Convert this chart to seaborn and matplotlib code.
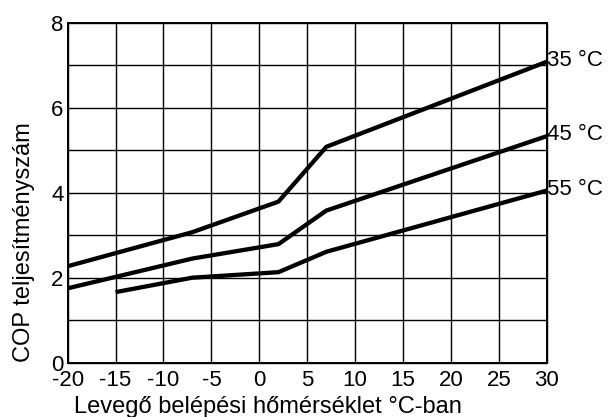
import matplotlib
matplotlib.use("Agg")
import matplotlib.pyplot as plt
import seaborn as sns
import pandas as pd

# Outdoor air temperature (°C) and COP curves per flow temperature
temp_35 = [-20, -7, 2, 7, 30]
cop_35 = [2.27, 3.07, 3.79, 5.08, 7.08]
temp_45 = [-20, -7, 2, 7, 30]
cop_45 = [1.75, 2.45, 2.79, 3.58, 5.33]
temp_55 = [-15, -7, 2, 7, 30]
cop_55 = [1.66, 2.00, 2.13, 2.61, 4.05]
series_labels = ["35 °C", "45 °C", "55 °C"]

x_ticks = [-20, -15, -10, -5, 0, 5, 10, 15, 20, 25, 30]
y_ticks = [0, 2, 4, 6, 8]

frames = []
for lab, xs, ys in zip(series_labels, [temp_35, temp_45, temp_55], [cop_35, cop_45, cop_55]):
    frames.append(pd.DataFrame({"temp": xs, "cop": ys, "curve": lab}))
df = pd.concat(frames, ignore_index=True)

sns.set_style("white")
plt.rcParams["font.family"] = ["Liberation Sans", "DejaVu Sans"]

fig = plt.figure(figsize=(6.08, 4.17), dpi=100)
ax = fig.add_axes([0.1113, 0.1302, 0.7879, 0.8154])

# grid every 5 °C and every 1 COP unit
for gx in range(-20, 31, 5):
    ax.axvline(gx, color="black", lw=1.0, zorder=1)
for gy in range(0, 9):
    ax.axhline(gy, color="black", lw=1.0, zorder=1)

sns.lineplot(data=df, x="temp", y="cop", hue="curve", palette=["black"] * 3,
             linewidth=3.1, legend=False, ax=ax, zorder=3, sort=False)
for line in ax.get_lines():
    line.set_solid_capstyle("butt")
    line.set_clip_on(False)

ax.set_xlim(-20, 30)
ax.set_ylim(0, 8)
ax.set_xticks(x_ticks)
ax.set_yticks(y_ticks)
ax.set_xticklabels([str(v) for v in x_ticks])
ax.set_yticklabels([str(v) for v in y_ticks])
ax.tick_params(axis="both", length=0, labelsize=16, colors="black")
ax.tick_params(axis="x", pad=5)
ax.tick_params(axis="y", pad=3)

for s in ax.spines.values():
    s.set_color("black")
    s.set_linewidth(1.4)

ax.set_xlabel("Levegő belépési hőmérséklet °C-ban", fontsize=17, color="black")
ax.set_ylabel("COP teljesítményszám", fontsize=17, color="black")
ax.xaxis.set_label_coords(0.418, -0.129)
ax.yaxis.set_label_coords(-0.091, 0.356)
ax.xaxis.label.set_va("center")
ax.yaxis.label.set_va("center")

for lab, xs, ys in zip(series_labels, [temp_35, temp_45, temp_55], [cop_35, cop_45, cop_55]):
    ax.annotate(lab, xy=(xs[-1], ys[-1]), xytext=(0.5, 1), textcoords="offset points",
                ha="left", va="center", fontsize=16, color="black", annotation_clip=False)

fig.savefig("out.png", dpi=100)
